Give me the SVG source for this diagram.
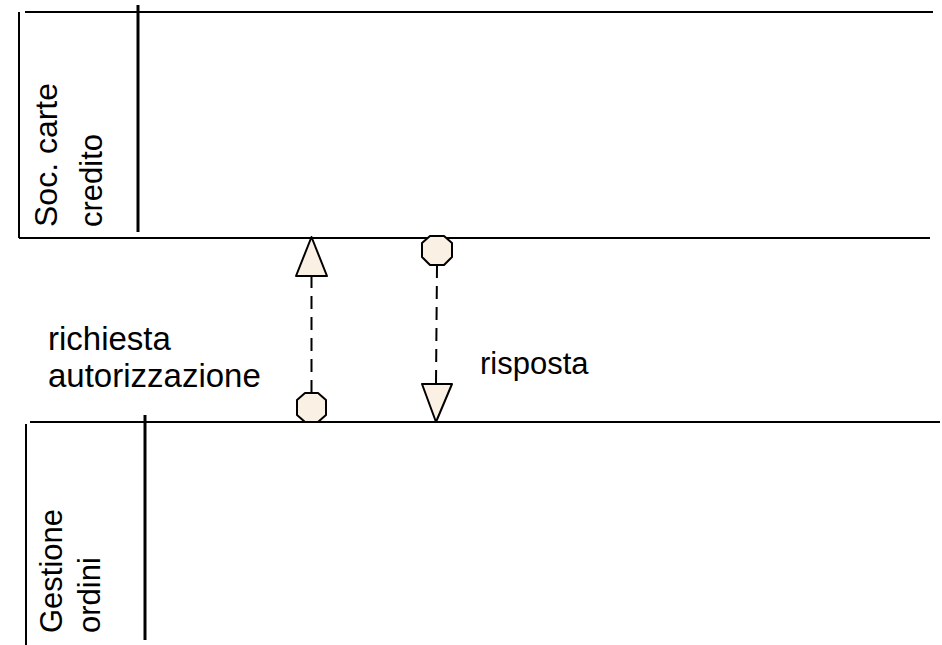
<svg xmlns="http://www.w3.org/2000/svg" width="942" height="645" viewBox="0 0 942 645">
<defs>
<style>
.lane{stroke:#000;stroke-width:2;fill:none}
.sep{stroke:#000;stroke-width:3;fill:none}
.lbl{font-family:"Liberation Sans",Arial,sans-serif;font-size:31px;fill:#000}
.big{font-size:33px}
.sym{fill:#FAF0E3;stroke:#000;stroke-width:2;stroke-linejoin:round}
.flow{stroke:#000;stroke-width:2;stroke-dasharray:13 8;fill:none}
</style>
</defs>
<rect width="942" height="645" fill="#fff"/>
<g id="lane-soc">
<line class="lane" x1="19" y1="12" x2="19" y2="238"/>
<line class="lane" x1="25" y1="12" x2="933" y2="12"/>
<line class="lane" x1="19" y1="238" x2="930" y2="238"/>
<line class="sep" x1="138" y1="5" x2="138" y2="232"/>
<text class="lbl" style="font-size:32px" transform="translate(57,227) rotate(-90)">Soc. carte</text>
<text class="lbl" transform="translate(102,227) rotate(-90)">credito</text>
</g>
<g id="lane-gestione">
<line class="lane" x1="30" y1="422" x2="940" y2="422"/>
<line class="lane" x1="26" y1="424" x2="26" y2="645"/>
<line class="sep" x1="145" y1="415" x2="145" y2="640"/>
<text class="lbl" transform="translate(62,633) rotate(-90)">Gestione</text>
<text class="lbl" transform="translate(100,633) rotate(-90)">ordini</text>
</g>
<g id="connectors">
<line class="flow" x1="311.5" y1="393" x2="311.5" y2="276"/>
<line class="flow" x1="437" y1="265" x2="436" y2="384"/>
</g>
<g id="msg-richiesta">
<polygon class="sym" points="311.5,237 327,276 296,276"/>
<polygon class="sym" points="305,393 318,393 326,400 326,415 318,422 305,422 297,415 297,400"/>
<text class="lbl big" x="48" y="350">richiesta</text>
<text class="lbl big" x="48" y="387">autorizzazione</text>
</g>
<g id="msg-risposta">
<polygon class="sym" points="430,236 444,236 452,243 452,257 444,265 430,265 422,257 422,243"/>
<polygon class="sym" points="422,384 452,384 436,422"/>
<text class="lbl" x="480" y="374">risposta</text>
</g>
</svg>
